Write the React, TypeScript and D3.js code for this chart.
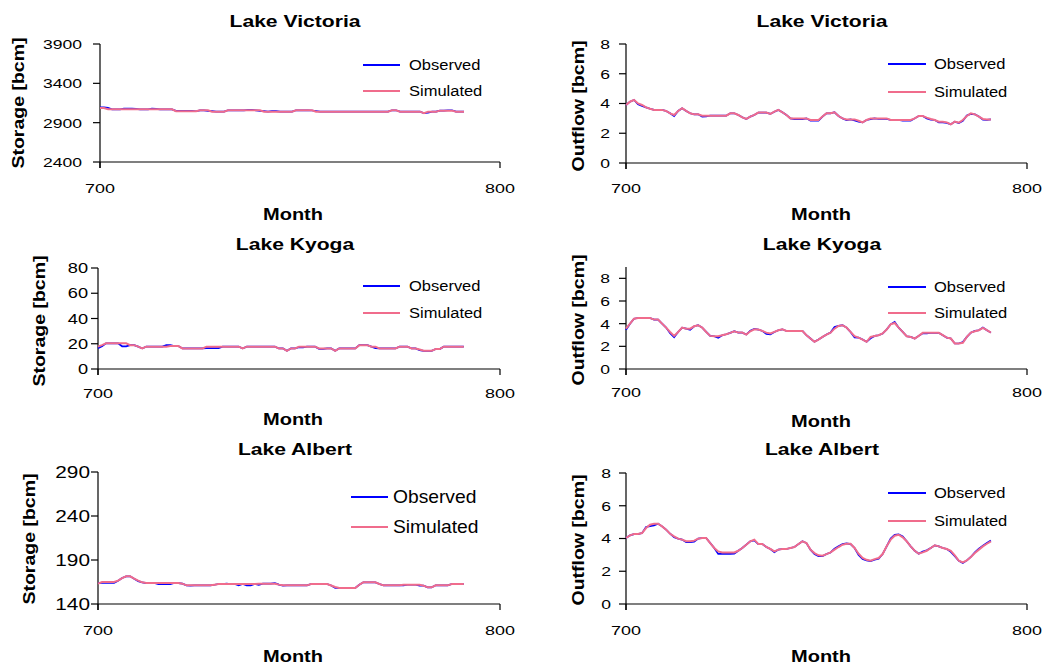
import React from 'react';
import * as d3 from 'd3';

// Observed vs simulated storage / outflow for the three lakes, months 700–791.
// One value per month, first value is month 700.

const START_MONTH = 700;
const X_DOMAIN = [700, 800];
const X_TICKS = [700, 800];

const VIC_STORAGE_SIM = [
  3086, 3086, 3070, 3070, 3070, 3070, 3070, 3070, 3070, 3070, 3070, 3070, 3070, 3070, 3070, 3070,
  3070, 3070, 3070, 3045, 3045, 3045, 3045, 3045, 3045, 3057, 3057, 3057, 3040, 3040, 3040, 3040,
  3057, 3057, 3057, 3057, 3057, 3057, 3057, 3057, 3057, 3040, 3040, 3040, 3040, 3040, 3040, 3040,
  3040, 3057, 3057, 3057, 3057, 3057, 3040, 3040, 3040, 3040, 3040, 3040, 3040, 3040, 3040, 3040,
  3040, 3040, 3040, 3040, 3040, 3040, 3040, 3040, 3040, 3057, 3057, 3040, 3040, 3040, 3040, 3040,
  3040, 3020, 3040, 3040, 3040, 3053, 3053, 3053, 3053, 3040, 3040, 3040,
];
const VIC_STORAGE_OBS = [
  3095, 3095, 3090, 3070, 3070, 3070, 3078, 3078, 3078, 3076, 3070, 3070, 3070, 3078, 3076, 3070,
  3070, 3070, 3068, 3050, 3050, 3050, 3050, 3050, 3045, 3057, 3057, 3050, 3046, 3040, 3040, 3040,
  3057, 3057, 3057, 3057, 3057, 3063, 3064, 3057, 3050, 3046, 3040, 3047, 3047, 3040, 3040, 3040,
  3040, 3057, 3057, 3057, 3057, 3055, 3048, 3040, 3040, 3040, 3040, 3040, 3040, 3040, 3040, 3040,
  3040, 3040, 3040, 3040, 3040, 3040, 3040, 3040, 3040, 3057, 3057, 3040, 3040, 3040, 3040, 3040,
  3040, 3020, 3026, 3040, 3040, 3053, 3053, 3058, 3058, 3040, 3040, 3040,
];

const VIC_OUTFLOW_SIM = [
  3.9, 4.12, 4.24, 4.0, 3.9, 3.74, 3.65, 3.57, 3.57, 3.57, 3.5, 3.34, 3.23, 3.5, 3.68, 3.5,
  3.34, 3.27, 3.27, 3.18, 3.18, 3.18, 3.18, 3.18, 3.18, 3.18, 3.34, 3.34, 3.23, 3.07, 2.96, 3.12,
  3.23, 3.39, 3.39, 3.39, 3.3, 3.45, 3.57, 3.41, 3.23, 3.0, 3.0, 3.0, 3.0, 3.0, 2.89, 2.89,
  2.89, 3.12, 3.34, 3.34, 3.41, 3.16, 3.0, 2.93, 2.93, 2.93, 2.84, 2.73, 2.89, 3.0, 3.0, 3.0,
  3.0, 3.0, 2.89, 2.89, 2.89, 2.89, 2.89, 2.89, 3.0, 3.16, 3.16, 3.05, 2.96, 2.89, 2.78, 2.78,
  2.73, 2.6, 2.78, 2.71, 2.89, 3.16, 3.34, 3.27, 3.12, 2.96, 2.93, 2.93,
];
const VIC_OUTFLOW_OBS = [
  3.9, 4.12, 4.24, 3.94, 3.84, 3.74, 3.65, 3.57, 3.57, 3.57, 3.5, 3.34, 3.15, 3.5, 3.68, 3.5,
  3.34, 3.27, 3.27, 3.12, 3.14, 3.18, 3.18, 3.18, 3.18, 3.18, 3.34, 3.34, 3.23, 3.07, 2.96, 3.12,
  3.23, 3.39, 3.39, 3.39, 3.3, 3.45, 3.57, 3.41, 3.23, 3.0, 2.95, 2.95, 2.95, 3.0, 2.84, 2.84,
  2.84, 3.12, 3.34, 3.34, 3.41, 3.16, 3.0, 2.88, 2.93, 2.86, 2.78, 2.73, 2.89, 2.95, 3.0, 2.96,
  2.96, 2.96, 2.89, 2.89, 2.89, 2.84, 2.84, 2.84, 3.0, 3.16, 3.16, 3.0, 2.91, 2.89, 2.73, 2.73,
  2.7, 2.6, 2.78, 2.68, 2.84, 3.2, 3.3, 3.27, 3.12, 2.92, 2.9, 2.93,
];

const KYO_STORAGE_SIM = [
  17.7, 18.9, 20.3, 20.3, 20.3, 20.3, 20.3, 20.3, 18.9, 18.9, 17.7, 16.3, 17.7, 17.7, 17.7, 17.7,
  17.7, 17.7, 18.2, 18.2, 18.2, 16.3, 16.3, 16.3, 16.3, 16.3, 16.3, 17.7, 17.7, 17.7, 17.7, 17.7,
  17.7, 17.7, 17.7, 17.7, 16.3, 17.7, 17.7, 17.7, 17.7, 17.7, 17.7, 17.7, 17.7, 16.3, 16.3, 14.4,
  16.3, 16.3, 17.7, 17.7, 17.7, 17.7, 17.7, 16.3, 16.3, 16.3, 16.3, 14.4, 16.3, 16.3, 16.3, 16.3,
  16.3, 18.9, 18.9, 18.9, 17.7, 17.7, 16.3, 16.3, 16.3, 16.3, 16.3, 17.7, 17.7, 17.7, 16.3, 16.3,
  15.5, 14.4, 14.4, 14.4, 15.8, 15.8, 17.7, 17.7, 17.7, 17.7, 17.7, 17.7,
];
const KYO_STORAGE_OBS = [
  16.5, 18.0, 20.3, 20.3, 20.3, 20.3, 18.0, 18.0, 18.9, 18.9, 17.7, 16.3, 17.7, 17.7, 17.7, 17.7,
  17.7, 18.9, 18.9, 18.2, 18.2, 16.3, 16.3, 16.3, 16.3, 16.3, 16.3, 16.5, 16.5, 16.5, 16.5, 17.7,
  17.7, 17.7, 17.7, 17.7, 16.3, 17.7, 17.7, 17.7, 17.7, 17.7, 17.7, 17.7, 17.7, 16.3, 16.3, 14.4,
  16.3, 16.3, 17.2, 17.2, 17.7, 17.7, 17.7, 16.0, 16.0, 16.3, 16.3, 14.4, 16.3, 16.3, 16.3, 16.3,
  16.3, 18.9, 18.9, 18.9, 17.7, 16.5, 16.3, 16.3, 16.3, 16.3, 16.3, 17.7, 17.7, 17.7, 16.3, 16.3,
  15.0, 14.4, 14.4, 14.4, 15.8, 15.8, 17.7, 17.7, 17.7, 17.7, 17.7, 17.7,
];

const KYO_OUTFLOW_SIM = [
  3.56, 4.0, 4.44, 4.5, 4.5, 4.5, 4.5, 4.36, 4.36, 4.0, 3.65, 3.27, 2.92, 3.27, 3.65, 3.56,
  3.56, 3.77, 3.86, 3.65, 3.27, 2.92, 2.89, 2.89, 2.98, 3.07, 3.19, 3.33, 3.21, 3.21, 3.04, 3.33,
  3.5, 3.48, 3.36, 3.21, 3.13, 3.27, 3.42, 3.5, 3.36, 3.36, 3.36, 3.36, 3.36, 2.98, 2.69, 2.4,
  2.6, 2.83, 3.04, 3.21, 3.56, 3.8, 3.86, 3.65, 3.27, 2.89, 2.77, 2.6, 2.4, 2.83, 2.92, 2.98,
  3.13, 3.48, 3.94, 4.06, 3.65, 3.27, 2.89, 2.83, 2.69, 2.92, 3.19, 3.19, 3.19, 3.19, 3.19, 2.98,
  2.77, 2.69, 2.25, 2.25, 2.31, 2.83, 3.21, 3.33, 3.42, 3.62, 3.42, 3.21,
];
const KYO_OUTFLOW_OBS = [
  3.45, 4.0, 4.44, 4.5, 4.5, 4.5, 4.5, 4.36, 4.36, 4.0, 3.65, 3.15, 2.8, 3.27, 3.65, 3.56,
  3.45, 3.77, 3.86, 3.65, 3.27, 2.92, 2.89, 2.75, 2.98, 3.07, 3.19, 3.33, 3.21, 3.21, 3.04, 3.38,
  3.55, 3.48, 3.36, 3.1, 3.05, 3.27, 3.42, 3.5, 3.36, 3.36, 3.36, 3.36, 3.36, 2.98, 2.69, 2.4,
  2.6, 2.83, 3.04, 3.21, 3.7, 3.8, 3.86, 3.65, 3.27, 2.78, 2.77, 2.6, 2.4, 2.7, 2.92, 2.98,
  3.13, 3.48, 3.94, 4.15, 3.65, 3.27, 2.89, 2.83, 2.69, 2.92, 3.15, 3.15, 3.19, 3.19, 3.19, 2.98,
  2.77, 2.69, 2.25, 2.25, 2.38, 2.83, 3.21, 3.36, 3.42, 3.66, 3.42, 3.21,
];

const ALB_STORAGE_SIM = [
  163.1, 165.0, 165.0, 165.0, 165.0, 166.5, 169.5, 171.4, 171.4, 168.8, 166.5, 164.6, 163.8, 163.8, 163.8, 163.8,
  163.8, 163.8, 163.8, 163.8, 163.8, 163.1, 161.2, 161.2, 161.2, 161.2, 161.2, 161.2, 161.2, 161.9, 162.7, 162.7,
  162.7, 162.7, 162.7, 162.7, 162.7, 162.7, 162.7, 162.7, 163.1, 163.1, 163.1, 163.1, 163.1, 162.0, 161.2, 161.2,
  161.2, 161.2, 161.2, 161.2, 161.2, 162.7, 162.7, 162.7, 162.7, 162.7, 161.0, 159.3, 158.2, 158.2, 158.2, 158.2,
  158.2, 161.9, 164.6, 164.6, 164.6, 164.6, 162.7, 161.2, 161.2, 161.2, 161.2, 161.2, 161.9, 161.9, 161.9, 161.9,
  161.9, 160.8, 158.9, 158.9, 161.2, 161.2, 161.2, 161.2, 162.7, 162.7, 162.7, 162.7,
];
const ALB_STORAGE_OBS = [
  163.8, 164.0, 164.0, 164.0, 164.0, 166.5, 169.5, 171.4, 171.4, 168.8, 166.0, 164.6, 163.8, 163.8, 163.8, 162.5,
  162.5, 162.5, 162.5, 163.8, 163.8, 163.1, 161.2, 160.8, 161.2, 161.2, 161.2, 161.2, 161.2, 161.9, 162.7, 162.7,
  163.1, 162.7, 162.7, 161.2, 162.7, 161.2, 161.2, 162.7, 161.6, 163.1, 163.1, 163.1, 163.8, 162.0, 160.8, 161.2,
  161.2, 161.2, 161.2, 161.2, 161.2, 162.7, 162.7, 162.7, 162.7, 162.7, 161.0, 158.2, 158.2, 158.2, 158.2, 158.2,
  158.2, 161.9, 164.6, 164.6, 164.6, 164.6, 162.7, 161.2, 161.2, 161.2, 161.2, 161.2, 161.2, 161.9, 161.9, 161.9,
  160.8, 160.8, 158.9, 158.9, 161.2, 161.2, 161.2, 161.2, 162.7, 162.7, 162.7, 162.7,
];

const ALB_OUTFLOW_SIM = [
  4.03, 4.19, 4.27, 4.27, 4.33, 4.64, 4.84, 4.9, 4.9, 4.74, 4.54, 4.29, 4.13, 3.99, 3.93, 3.83,
  3.83, 3.87, 3.99, 4.03, 4.03, 3.72, 3.42, 3.21, 3.15, 3.15, 3.15, 3.15, 3.25, 3.42, 3.62, 3.83,
  3.93, 3.66, 3.66, 3.48, 3.36, 3.21, 3.32, 3.36, 3.36, 3.42, 3.48, 3.66, 3.83, 3.72, 3.32, 3.11,
  2.97, 2.95, 3.05, 3.15, 3.32, 3.48, 3.62, 3.68, 3.68, 3.42, 3.07, 2.81, 2.7, 2.64, 2.74, 2.81,
  3.05, 3.52, 3.93, 4.17, 4.23, 4.07, 3.83, 3.52, 3.25, 3.07, 3.15, 3.25, 3.42, 3.58, 3.52, 3.42,
  3.36, 3.25, 2.97, 2.64, 2.54, 2.66, 2.87, 3.11, 3.32, 3.52, 3.68, 3.83,
];
const ALB_OUTFLOW_OBS = [
  4.03, 4.19, 4.27, 4.27, 4.33, 4.7, 4.76, 4.8, 4.9, 4.74, 4.54, 4.29, 4.08, 3.99, 3.93, 3.78,
  3.78, 3.8, 3.99, 4.03, 4.03, 3.72, 3.42, 3.06, 3.06, 3.06, 3.06, 3.08, 3.25, 3.42, 3.62, 3.83,
  3.88, 3.66, 3.66, 3.48, 3.36, 3.16, 3.32, 3.36, 3.36, 3.42, 3.48, 3.66, 3.83, 3.72, 3.32, 3.05,
  2.92, 2.92, 3.05, 3.15, 3.38, 3.53, 3.66, 3.7, 3.66, 3.42, 3.0, 2.75, 2.66, 2.62, 2.7, 2.76,
  3.05, 3.52, 4.0, 4.22, 4.25, 4.12, 3.83, 3.52, 3.25, 3.07, 3.2, 3.28, 3.42, 3.58, 3.52, 3.42,
  3.36, 3.18, 2.92, 2.64, 2.5, 2.66, 2.87, 3.16, 3.38, 3.56, 3.72, 3.88,
];

const FONT = '"Liberation Sans", Arial, Helvetica, sans-serif';
const OBS_COLOR = '#0000ff';
const SIM_COLOR = '#f06c8c';

type PanelSpec = {
  key: string;
  title: string;
  yLabel: string;
  obs: number[];
  sim: number[];
  yDomain: [number, number];
  yTicks: number[];
  x0: number;
  x1: number;
  top: number;
  bottom: number;
  titleX: number;
  titleY: number;
  yLabelX: number;
  yLabelY: number;
  yTickEnd: number;
  yTickSize: number;
  xTickY: number;
  monthX: number;
  monthY: number;
  legendX0: number;
  legendX1: number;
  legendTextX: number;
  legendY: [number, number];
  legendSize: number;
};

// text with a horizontal stretch, the source font is wider than Arial
function SText({
  x,
  y,
  sx = 1,
  rotate = 0,
  size,
  bold = false,
  anchor = 'start',
  dy,
  children,
}: {
  x: number;
  y: number;
  sx?: number;
  rotate?: number;
  size: number;
  bold?: boolean;
  anchor?: 'start' | 'middle' | 'end';
  dy?: string;
  children: React.ReactNode;
}) {
  return (
    <text
      transform={`translate(${x},${y}) rotate(${rotate}) scale(${sx},1)`}
      fontFamily={FONT}
      fontSize={size}
      fontWeight={bold ? 'bold' : 'normal'}
      textAnchor={anchor}
      dy={dy}
      fill="#000"
    >
      {children}
    </text>
  );
}

function Panel({ s }: { s: PanelSpec }) {
  const x = d3.scaleLinear().domain(X_DOMAIN).range([s.x0, s.x1]);
  const y = d3.scaleLinear().domain(s.yDomain).range([s.bottom, s.top]);
  const line = d3
    .line<number>()
    .x((_, i) => x(START_MONTH + i))
    .y((v) => y(v));
  const tick = 6;

  return (
    <g>
      <SText x={s.titleX} y={s.titleY} size={16} bold sx={1.32} anchor="middle">
        {s.title}
      </SText>

      {/* axes */}
      <line x1={s.x0} x2={s.x0} y1={s.top} y2={s.bottom + tick} stroke="#000" strokeWidth={1.2} />
      <line x1={s.x0} x2={s.x1} y1={s.bottom} y2={s.bottom} stroke="#000" strokeWidth={1.2} />
      {X_TICKS.map((t) => (
        <g key={t}>
          <line x1={x(t)} x2={x(t)} y1={s.bottom} y2={s.bottom + tick} stroke="#000" strokeWidth={1.2} />
          <SText x={x(t)} y={s.xTickY} size={13.5} sx={1.33} anchor="middle">
            {t}
          </SText>
        </g>
      ))}
      {s.yTicks.map((t) => (
        <g key={t}>
          <line x1={s.x0 - tick - 1} x2={s.x0} y1={y(t)} y2={y(t)} stroke="#000" strokeWidth={1.2} />
          <SText x={s.yTickEnd} y={y(t)} size={s.yTickSize} sx={1.3} anchor="end" dy="0.36em">
            {t}
          </SText>
        </g>
      ))}

      <SText x={s.yLabelX} y={s.yLabelY} size={16} bold sx={1.22} rotate={-90} anchor="middle" dy="0.36em">
        {s.yLabel}
      </SText>
      <SText x={s.monthX} y={s.monthY} size={16} bold sx={1.25} anchor="middle">
        Month
      </SText>

      {/* series: observed underneath, simulated on top */}
      <path d={line(s.obs) ?? ''} fill="none" stroke={OBS_COLOR} strokeWidth={1.7} />
      <path d={line(s.sim) ?? ''} fill="none" stroke={SIM_COLOR} strokeWidth={2} />

      {/* legend */}
      {[
        { label: 'Observed', color: OBS_COLOR },
        { label: 'Simulated', color: SIM_COLOR },
      ].map((d, i) => (
        <g key={d.label}>
          <line
            x1={s.legendX0}
            x2={s.legendX1}
            y1={s.legendY[i]}
            y2={s.legendY[i]}
            stroke={d.color}
            strokeWidth={1.8}
          />
          <SText x={s.legendTextX} y={s.legendY[i]} size={s.legendSize} sx={1.1} dy="0.36em">
            {d.label}
          </SText>
        </g>
      ))}
    </g>
  );
}

const LEFT = { x0: 100, x1: 500, titleX: 295, monthX: 293, legendX0: 363, legendX1: 400, legendTextX: 409 };
const RIGHT = { x0: 626, x1: 1027, titleX: 822, monthX: 821, legendX0: 888, legendX1: 926, legendTextX: 934 };

const PANELS: PanelSpec[] = [
  {
    key: 'vic-s',
    ...LEFT,
    title: 'Lake Victoria',
    yLabel: 'Storage [bcm]',
    obs: VIC_STORAGE_OBS,
    sim: VIC_STORAGE_SIM,
    yDomain: [2400, 3900],
    yTicks: [2400, 2900, 3400, 3900],
    top: 44,
    bottom: 162,
    titleY: 27,
    yLabelX: 18,
    yLabelY: 103,
    yTickEnd: 82,
    yTickSize: 13.5,
    xTickY: 193,
    monthY: 220,
    legendY: [65, 91],
    legendSize: 15,
  },
  {
    key: 'vic-o',
    ...RIGHT,
    title: 'Lake Victoria',
    yLabel: 'Outflow [bcm]',
    obs: VIC_OUTFLOW_OBS,
    sim: VIC_OUTFLOW_SIM,
    yDomain: [0, 8],
    yTicks: [0, 2, 4, 6, 8],
    top: 44,
    bottom: 163,
    titleY: 27,
    yLabelX: 578,
    yLabelY: 106,
    yTickEnd: 610,
    yTickSize: 13.5,
    xTickY: 193,
    monthY: 220,
    legendY: [64, 92],
    legendSize: 15,
  },
  {
    key: 'kyo-s',
    ...LEFT,
    x0: 98,
    title: 'Lake Kyoga',
    yLabel: 'Storage [bcm]',
    obs: KYO_STORAGE_OBS,
    sim: KYO_STORAGE_SIM,
    yDomain: [0, 80],
    yTicks: [0, 20, 40, 60, 80],
    top: 268,
    bottom: 369,
    titleY: 250,
    yLabelX: 39,
    yLabelY: 321,
    yTickEnd: 88,
    yTickSize: 14,
    xTickY: 398,
    monthY: 425,
    legendY: [286, 313],
    legendSize: 15,
  },
  {
    key: 'kyo-o',
    ...RIGHT,
    title: 'Lake Kyoga',
    yLabel: 'Outflow [bcm]',
    obs: KYO_OUTFLOW_OBS,
    sim: KYO_OUTFLOW_SIM,
    yDomain: [0, 9],
    yTicks: [0, 2, 4, 6, 8],
    top: 267,
    bottom: 369,
    titleY: 250,
    yLabelX: 578,
    yLabelY: 320,
    yTickEnd: 610,
    yTickSize: 13.5,
    xTickY: 397,
    monthY: 427,
    legendY: [287, 313],
    legendSize: 15,
  },
  {
    key: 'alb-s',
    ...LEFT,
    x0: 98,
    legendX0: 351,
    legendX1: 388,
    legendTextX: 393,
    title: 'Lake Albert',
    yLabel: 'Storage [bcm]',
    obs: ALB_STORAGE_OBS,
    sim: ALB_STORAGE_SIM,
    yDomain: [140, 290],
    yTicks: [140, 190, 240, 290],
    top: 472,
    bottom: 604,
    titleY: 455,
    yLabelX: 29,
    yLabelY: 539,
    yTickEnd: 90,
    yTickSize: 16,
    xTickY: 635,
    monthY: 662,
    legendY: [497, 527],
    legendSize: 17.5,
  },
  {
    key: 'alb-o',
    ...RIGHT,
    title: 'Lake Albert',
    yLabel: 'Outflow [bcm]',
    obs: ALB_OUTFLOW_OBS,
    sim: ALB_OUTFLOW_SIM,
    yDomain: [0, 8],
    yTicks: [0, 2, 4, 6, 8],
    top: 473,
    bottom: 604,
    titleY: 455,
    yLabelX: 578,
    yLabelY: 540,
    yTickEnd: 611,
    yTickSize: 13.5,
    xTickY: 635,
    monthY: 662,
    legendY: [493, 521],
    legendSize: 15,
  },
];

export default function App() {
  return (
    <svg
      width={1044}
      height={667}
      viewBox="0 0 1044 667"
      style={{ position: 'absolute', left: 0, top: 0, background: '#fff' }}
    >
      <rect width={1044} height={667} fill="#fff" />
      {PANELS.map((p) => (
        <Panel key={p.key} s={p} />
      ))}
    </svg>
  );
}
